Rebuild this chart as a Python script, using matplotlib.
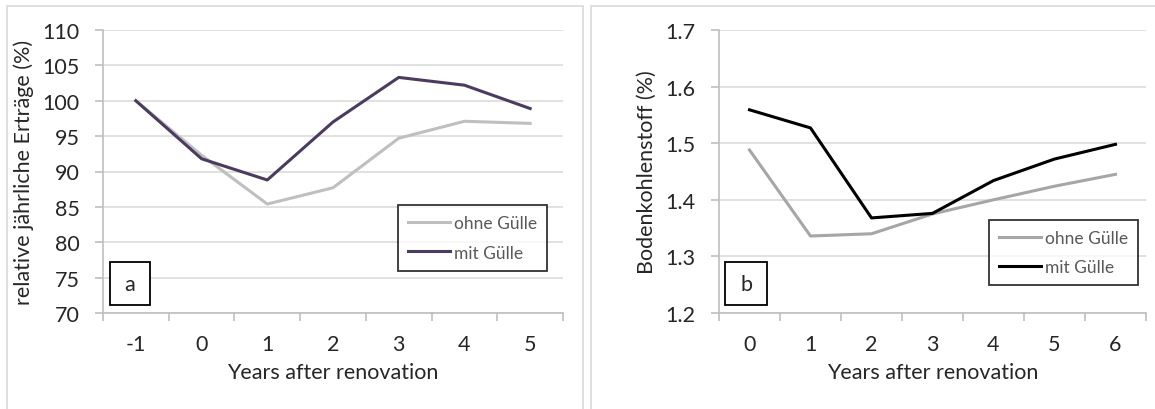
import matplotlib
matplotlib.use("Agg")
import matplotlib.pyplot as plt
from matplotlib.patches import Rectangle

plt.rcParams['font.family'] = ['Lato', 'DejaVu Sans']

# panel a: relative jährliche Erträge
years_a = ["-1", "0", "1", "2", "3", "4", "5"]
ertrag_ohne = [100.0, 92.3, 85.4, 87.7, 94.7, 97.1, 96.8]
ertrag_mit = [100.0, 91.8, 88.8, 97.0, 103.3, 102.2, 98.9]

# panel b: Bodenkohlenstoff
years_b = ["0", "1", "2", "3", "4", "5", "6"]
kohlenstoff_ohne = [1.488, 1.336, 1.340, 1.375, 1.400, 1.424, 1.445]
kohlenstoff_mit = [1.559, 1.527, 1.368, 1.376, 1.434, 1.472, 1.498]

W, H = 1155, 410
fig = plt.figure(figsize=(W / 100, H / 100), dpi=100)

# panel frames
for x0, x1 in [(7, 583), (591, 1160)]:
    fig.add_artist(Rectangle((x0 / W, -0.1), (x1 - x0) / W, 1.1 - 7 / H,
                             transform=fig.transFigure, fill=False,
                             edgecolor="#d9d9d9", lw=1.2))


def setup(ax, labels, ylim, yticks, yfmt, ylabel):
    n = len(labels)
    ax.set_xlim(-0.5, n - 0.5)
    ax.set_ylim(*ylim)
    ax.set_xticks(range(n))
    ax.set_xticklabels(labels)
    ax.set_xticks([i - 0.5 for i in range(n + 1)], minor=True)
    ax.set_yticks(yticks)
    ax.set_yticklabels([yfmt.format(v) for v in yticks])
    ax.tick_params(axis="x", which="major", length=0, pad=15, labelsize=15.5, colors="#262626")
    ax.tick_params(axis="x", which="minor", length=6, width=1.2, color="#bfbfbf")
    ax.tick_params(axis="y", length=6, width=1.2, color="#bfbfbf", pad=11, labelsize=15.5, labelcolor="#262626")
    for s in ["top", "right"]:
        ax.spines[s].set_visible(False)
    for s in ["left", "bottom"]:
        ax.spines[s].set_color("#bfbfbf")
        ax.spines[s].set_linewidth(1.2)
    ax.grid(axis="y", color="#d9d9d9", lw=1.1)
    ax.set_axisbelow(True)
    ax.set_xlabel("Years after renovation", fontsize=15.5, color="#262626", labelpad=6)
    ax.set_ylabel(ylabel, fontsize=15.5, color="#262626", labelpad=6)


def px_axes(x0, y0, x1, y1):
    return [x0 / W, 1 - y1 / H, (x1 - x0) / W, (y1 - y0) / H]


ax1 = fig.add_axes(px_axes(103, 31, 563, 314))
setup(ax1, years_a, (70, 110), list(range(70, 111, 5)), "{:d}",
      "relative jährliche Erträge (%)")
ax1.plot(range(len(years_a)), ertrag_ohne, color="#bfbfbf", lw=2.2, label="ohne Gülle")
ax1.plot(range(len(years_a)), ertrag_mit, color="#4b3b5f", lw=2.2, label="mit Gülle")

ax2 = fig.add_axes(px_axes(719, 31, 1146, 314))
setup(ax2, years_b, (1.2, 1.7), [1.2, 1.3, 1.4, 1.5, 1.6, 1.7], "{:.1f}",
      "Bodenkohlenstoff (%)")
ax2.plot(range(len(years_b)), kohlenstoff_ohne, color="#a6a6a6", lw=2.2, label="ohne Gülle")
ax2.plot(range(len(years_b)), kohlenstoff_mit, color="#000000", lw=2.2, label="mit Gülle")


def legend_box(ax, x0, y0, x1, y1):
    leg = ax.legend(loc="center", bbox_to_anchor=((x0 + x1) / 2 / W, 1 - (y0 + y1) / 2 / H),
                    bbox_transform=fig.transFigure, fontsize=12.5, frameon=True,
                    fancybox=False, edgecolor="black", handlelength=2.4,
                    handletextpad=0.2, labelspacing=0.75, borderpad=0.6,
                    labelcolor="#595959")
    leg.get_frame().set_linewidth(1.3)


legend_box(ax1, 403, 206, 542, 272)
legend_box(ax2, 997, 221, 1130, 286)

# panel letters
for (x0, x1), letter in [((110, 150), "a"), ((725, 767), "b")]:
    fig.add_artist(Rectangle((x0 / W, 1 - 306 / H), (x1 - x0) / W, 43 / H,
                             transform=fig.transFigure, fill=True, facecolor="white",
                             edgecolor="black", lw=1.3))
    fig.text((x0 + x1) / 2 / W, 1 - 285 / H, letter, ha="center", va="center",
             fontsize=15.5, color="#262626")

fig.savefig("out.png", dpi=100)
